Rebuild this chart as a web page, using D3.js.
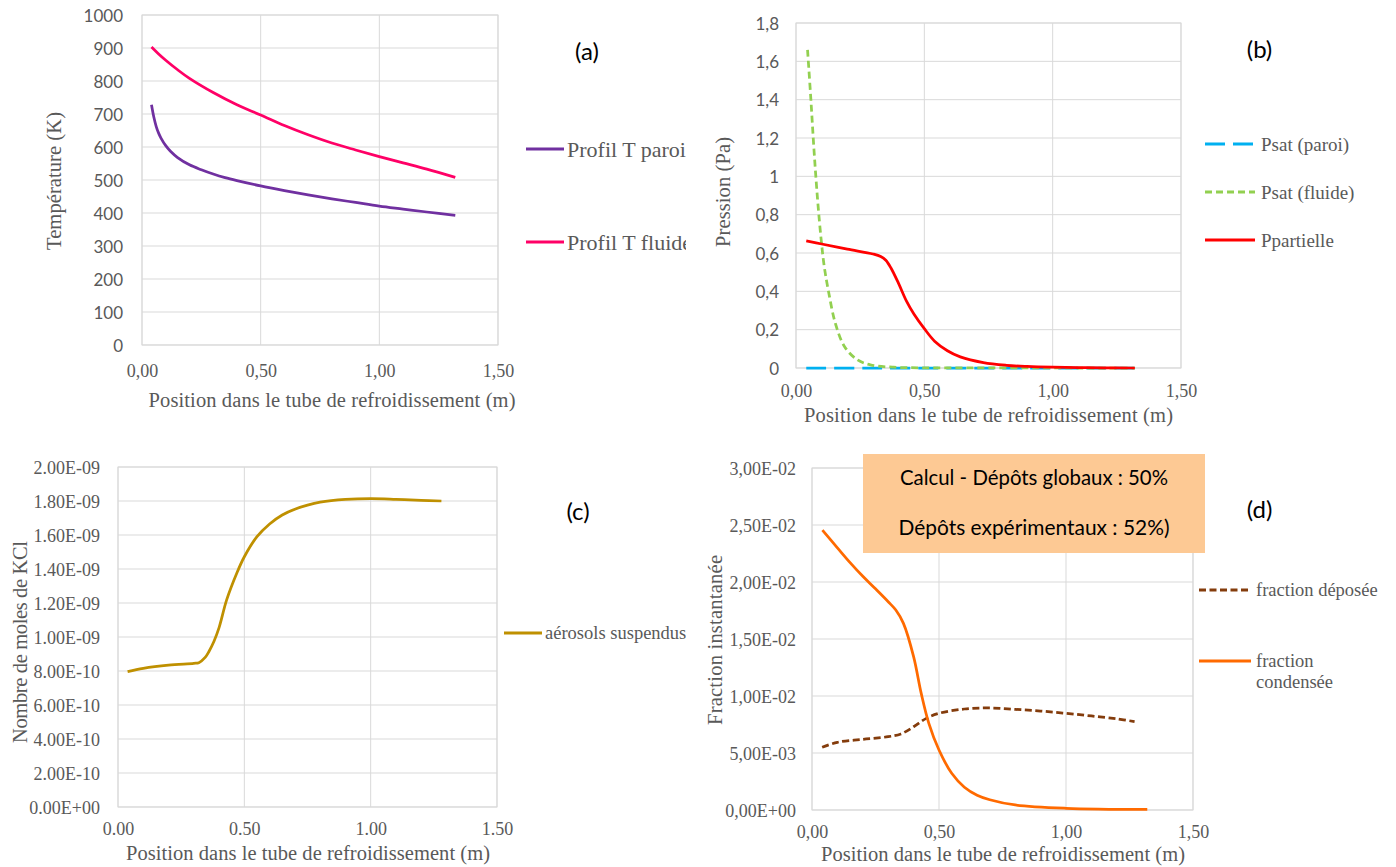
<!DOCTYPE html>
<html><head><meta charset="utf-8">
<script src="https://cdn.jsdelivr.net/npm/d3@7"></script>
<style>html,body{margin:0;padding:0;background:#fff;}svg{display:block;}</style>
</head><body>
<svg id="chart" width="1396" height="867"></svg>
<script>
// ---------- DATA ----------
// (a) Temperature profiles
const aX_paroi = [0.04,0.05,0.06,0.07,0.08,0.10,0.12,0.15,0.20,0.25,0.30,0.35,0.40,0.50,0.60,0.70,0.80,0.90,1.00,1.10,1.20,1.32];
const aY_paroi = [728,690,662,642,627,604,587,568,546,531,518,507,498,482,468,455,443,432,421,412,403,393];
const aX_fluide = [0.04,0.07,0.10,0.15,0.20,0.30,0.40,0.50,0.60,0.70,0.80,0.90,1.00,1.10,1.20,1.32];
const aY_fluide = [903,882,863,834,808,765,728,697,665,637,612,591,571,552,533,508];
const aYTicks = [0,100,200,300,400,500,600,700,800,900,1000];
const aYLabels = ["0","100","200","300","400","500","600","700","800","900","1000"];
const xTicks = [0,0.5,1.0,1.5];
const xLabelsComma = ["0,00","0,50","1,00","1,50"];
const xLabelsDot = ["0.00","0.50","1.00","1.50"];

// (b) Pressures
const bX_paroi = [0.04,0.30,0.60,0.90,1.20,1.32];
const bY_paroi = [0,0,0,0,0,0];
const bX_fluide = [0.045,0.058,0.070,0.084,0.098,0.110,0.128,0.154,0.190,0.240,0.290,0.380,0.500,0.700,0.900,1.100,1.320];
const bY_fluide = [1.66,1.40,1.14,0.88,0.67,0.53,0.39,0.23,0.11,0.042,0.016,0.004,0.001,0.0003,0.0001,0,0];
const bX_part = [0.04,0.10,0.20,0.30,0.33,0.35,0.37,0.40,0.43,0.46,0.50,0.54,0.59,0.64,0.73,0.82,0.90,1.00,1.10,1.20,1.32];
const bY_part = [0.663,0.647,0.620,0.595,0.582,0.562,0.522,0.440,0.350,0.280,0.205,0.140,0.090,0.058,0.028,0.014,0.008,0.004,0.002,0.001,0];
const bYTicks = [0,0.2,0.4,0.6,0.8,1.0,1.2,1.4,1.6,1.8];
const bYLabels = ["0","0,2","0,4","0,6","0,8","1","1,2","1,4","1,6","1,8"];

// (c) Aerosols
const cX = [0.038,0.10,0.20,0.30,0.32,0.345,0.36,0.38,0.40,0.43,0.47,0.50,0.55,0.60,0.65,0.70,0.75,0.80,0.90,1.00,1.10,1.20,1.28];
const cY = [7.96e-10,8.16e-10,8.35e-10,8.45e-10,8.49e-10,8.80e-10,9.15e-10,9.75e-10,1.055e-9,1.218e-9,1.375e-9,1.472e-9,1.59e-9,1.665e-9,1.718e-9,1.752e-9,1.776e-9,1.793e-9,1.809e-9,1.814e-9,1.81e-9,1.804e-9,1.80e-9];
const cYTicks = [0,2e-10,4e-10,6e-10,8e-10,1e-9,1.2e-9,1.4e-9,1.6e-9,1.8e-9,2e-9];
const cYLabels = ["0.00E+00","2.00E-10","4.00E-10","6.00E-10","8.00E-10","1.00E-09","1.20E-09","1.40E-09","1.60E-09","1.80E-09","2.00E-09"];

// (d) Fractions
const dX_dep = [0.04,0.10,0.20,0.30,0.35,0.40,0.45,0.50,0.60,0.70,0.80,0.90,1.00,1.10,1.20,1.27];
const dY_dep = [0.0055,0.00594,0.0062,0.00643,0.00667,0.0073,0.00804,0.00848,0.00886,0.00895,0.00883,0.00868,0.00848,0.00825,0.0080,0.00775];
const dX_cond = [0.041,0.10,0.15,0.20,0.25,0.30,0.33,0.36,0.40,0.43,0.46,0.50,0.55,0.60,0.65,0.70,0.80,1.00,1.32];
const dY_cond = [0.02456,0.0230,0.0217,0.0205,0.0194,0.01827,0.01754,0.01637,0.01345,0.01023,0.0076,0.00526,0.00322,0.0020,0.0013,0.0009,0.00044,0.00015,0.00005];
const dYTicks = [0,0.005,0.01,0.015,0.02,0.025,0.03];
const dYLabels = ["0,00E+00","5,00E-03","1,00E-02","1,50E-02","2,00E-02","2,50E-02","3,00E-02"];
const boxLines = ["Calcul - Dépôts globaux : 50%","Dépôts expérimentaux : 52%)"];

// ---------- DRAW ----------
const svg = d3.select("#chart");
const SERIF = "'Liberation Serif', 'Times New Roman', serif";
const SANS = "Lato, 'Open Sans', sans-serif";
const GRID = "#D9D9D9", TXT = "#595959";

const defs = svg.append("defs");
defs.append("clipPath").attr("id","clipLeft").append("rect").attr("x",0).attr("y",0).attr("width",686).attr("height",867);

function zip(xs, ys){ return xs.map((x,i)=>({x:x,y:ys[i]})); }

function panel(cfg){
  const g = svg.append("g").attr("clip-path", cfg.clip ? "url(#clipLeft)" : null);
  const x = d3.scaleLinear().domain([0,1.5]).range([cfg.left, cfg.right]);
  const y = d3.scaleLinear().domain(cfg.yDomain).range([cfg.bottom, cfg.top]);
  // grid
  g.append("g").selectAll("line").data(cfg.yTicks).join("line")
    .attr("x1",cfg.left).attr("x2",cfg.right).attr("y1",d=>y(d)).attr("y2",d=>y(d))
    .attr("stroke",GRID).attr("stroke-width",1);
  g.append("g").selectAll("line").data(xTicks).join("line")
    .attr("y1",cfg.top).attr("y2",cfg.bottom).attr("x1",d=>x(d)).attr("x2",d=>x(d))
    .attr("stroke",GRID).attr("stroke-width",1);
  g.append("rect").attr("x",cfg.left).attr("y",cfg.top).attr("width",cfg.right-cfg.left).attr("height",cfg.bottom-cfg.top)
    .attr("fill","none").attr("stroke",GRID).attr("stroke-width",1);
  // axes
  const xa = g.append("g").attr("transform",`translate(0,${cfg.bottom})`)
    .call(d3.axisBottom(x).tickValues(xTicks).tickSize(0).tickFormat((d,i)=>cfg.xLabels[i]));
  xa.select(".domain").remove();
  xa.selectAll("text").attr("y", cfg.xTickBase - cfg.bottom).attr("dy", null)
    .attr("fill",TXT).style("font-family",SERIF).style("font-size","18px");
  const ya = g.append("g").attr("transform",`translate(${cfg.left},0)`)
    .call(d3.axisLeft(y).tickValues(cfg.yTicks).tickSize(0).tickPadding(cfg.left-cfg.yTickRight).tickFormat((d,i)=>cfg.yLabels[i]));
  ya.select(".domain").remove();
  ya.selectAll("text").attr("dy","0.36em").attr("fill",TXT)
    .style("font-family",cfg.yTickSans ? SANS : SERIF).style("font-size", cfg.yTickSans ? "17px" : "18px");
  // titles
  g.append("text").attr("x",cfg.xTitle[0]).attr("y",cfg.xTitle[1]).attr("text-anchor","middle")
    .attr("textLength",cfg.xTitle[2]).attr("lengthAdjust","spacing")
    .attr("fill",TXT).style("font-family",SERIF).style("font-size","20.5px")
    .text("Position dans le tube de refroidissement (m)");
  g.append("text").attr("transform",`translate(${cfg.yTitle[0]},${cfg.yTitle[1]}) rotate(-90)`)
    .attr("text-anchor","middle").attr("dy","0.35em")
    .attr("textLength",cfg.yTitle[2]).attr("lengthAdjust","spacing")
    .attr("fill",TXT).style("font-family",SERIF).style("font-size","20.5px")
    .text(cfg.yTitle[3]);
  // series
  const line = d3.line().x(d=>x(d.x)).y(d=>y(d.y)).curve(d3.curveCatmullRom.alpha(0.5));
  cfg.series.forEach(s=>{
    g.append("path").datum(zip(s.xs,s.ys)).attr("d",line).attr("fill","none")
      .attr("stroke",s.color).attr("stroke-width",s.w||2.75).attr("stroke-dasharray",s.dash||null)
      .attr("stroke-linejoin","round");
  });
  // legend
  cfg.legend.forEach(l=>{
    g.append("line").attr("x1",cfg.legX1).attr("x2",cfg.legX2).attr("y1",l.y).attr("y2",l.y)
      .attr("stroke",l.color).attr("stroke-width",l.w||3).attr("stroke-dasharray",l.dash||null);
    const t = g.append("text").attr("x",cfg.legTextX).attr("y",l.y)
      .attr("fill",TXT).style("font-family",SERIF).style("font-size",cfg.legFont+"px");
    l.text.forEach((tx,i)=>{
      t.append("tspan").attr("x",cfg.legTextX).attr("dy", i===0 ? "0.35em" : "21px").text(tx);
    });
  });
  // panel label
  g.append("text").attr("x",cfg.label[0]).attr("y",cfg.label[1]).attr("text-anchor","middle").attr("dy","0.35em")
    .attr("fill","#000").style("font-family",SANS).style("font-size","24px").text(cfg.label[2]);
  return {g,x,y};
}

// (a)
panel({
  clip:true, left:142, right:498, top:15, bottom:345, yDomain:[0,1000],
  yTicks:aYTicks, yLabels:aYLabels, yTickRight:123, yTickSans:true,
  xLabels:xLabelsComma, xTickBase:377,
  xTitle:[332,407,367], yTitle:[54,181,138,"Température (K)"],
  series:[
    {xs:aX_paroi, ys:aY_paroi, color:"#7030A0"},
    {xs:aX_fluide, ys:aY_fluide, color:"#FF0066"}
  ],
  legX1:526, legX2:564, legTextX:567, legFont:22,
  legend:[
    {y:149, color:"#7030A0", text:["Profil T paroi"]},
    {y:242, color:"#FF0066", text:["Profil T fluide"]}
  ],
  label:[587,52,"(a)"]
});

// (b)
panel({
  clip:false, left:796, right:1181, top:23, bottom:368, yDomain:[0,1.8],
  yTicks:bYTicks, yLabels:bYLabels, yTickRight:779, yTickSans:true,
  xLabels:xLabelsComma, xTickBase:397,
  xTitle:[988.5,422,369], yTitle:[723,192,110,"Pression (Pa)"],
  series:[
    {xs:bX_paroi, ys:bY_paroi, color:"#00B0F0", dash:"20,8"},
    {xs:bX_fluide, ys:bY_fluide, color:"#92D050", dash:"7,4"},
    {xs:bX_part, ys:bY_part, color:"#FF0000"}
  ],
  legX1:1205, legX2:1255, legTextX:1261, legFont:19,
  legend:[
    {y:144, color:"#00B0F0", dash:"20,8", text:["Psat (paroi)"]},
    {y:192, color:"#92D050", dash:"7,4", text:["Psat (fluide)"]},
    {y:240, color:"#FF0000", text:["Ppartielle"]}
  ],
  label:[1259.5,50,"(b)"]
});

// (c)
panel({
  clip:true, left:118, right:497, top:467, bottom:807, yDomain:[0,2e-9],
  yTicks:cYTicks, yLabels:cYLabels, yTickRight:100, yTickSans:false,
  xLabels:xLabelsDot, xTickBase:835,
  xTitle:[308,860,364], yTitle:[20,642,202,"Nombre de moles de KCl"],
  series:[
    {xs:cX, ys:cY, color:"#BF9000"}
  ],
  legX1:504, legX2:542, legTextX:545, legFont:18.5,
  legend:[
    {y:633, color:"#BF9000", text:["aérosols suspendus"]}
  ],
  label:[578,512,"(c)"]
});

// (d)
panel({
  clip:false, left:812, right:1193, top:468, bottom:810, yDomain:[0,0.03],
  yTicks:dYTicks, yLabels:dYLabels, yTickRight:796, yTickSans:false,
  xLabels:xLabelsComma, xTickBase:838,
  xTitle:[1003,861,364], yTitle:[715,640,170,"Fraction instantanée"],
  series:[
    {xs:dX_dep, ys:dY_dep, color:"#843C0C", dash:"7,3.5"},
    {xs:dX_cond, ys:dY_cond, color:"#FF6A00"}
  ],
  legX1:1199, legX2:1251, legTextX:1256, legFont:18.5,
  legend:[
    {y:590, color:"#843C0C", dash:"7,3.5", text:["fraction déposée"]},
    {y:661, color:"#FF6A00", text:["fraction","condensée"]}
  ],
  label:[1259.6,510,"(d)"]
});
// annotation box
svg.append("rect").attr("x",863).attr("y",454).attr("width",342).attr("height",99).attr("fill","#FDC994");
boxLines.forEach((t,i)=>{
  svg.append("text").attr("x",1034).attr("y",[485,535][i]).attr("text-anchor","middle")
    .attr("textLength",[268,271][i]).attr("lengthAdjust","spacingAndGlyphs")
    .attr("fill","#000").style("font-family",SANS).style("font-size","21px").text(t);
});
</script>
</body></html>
